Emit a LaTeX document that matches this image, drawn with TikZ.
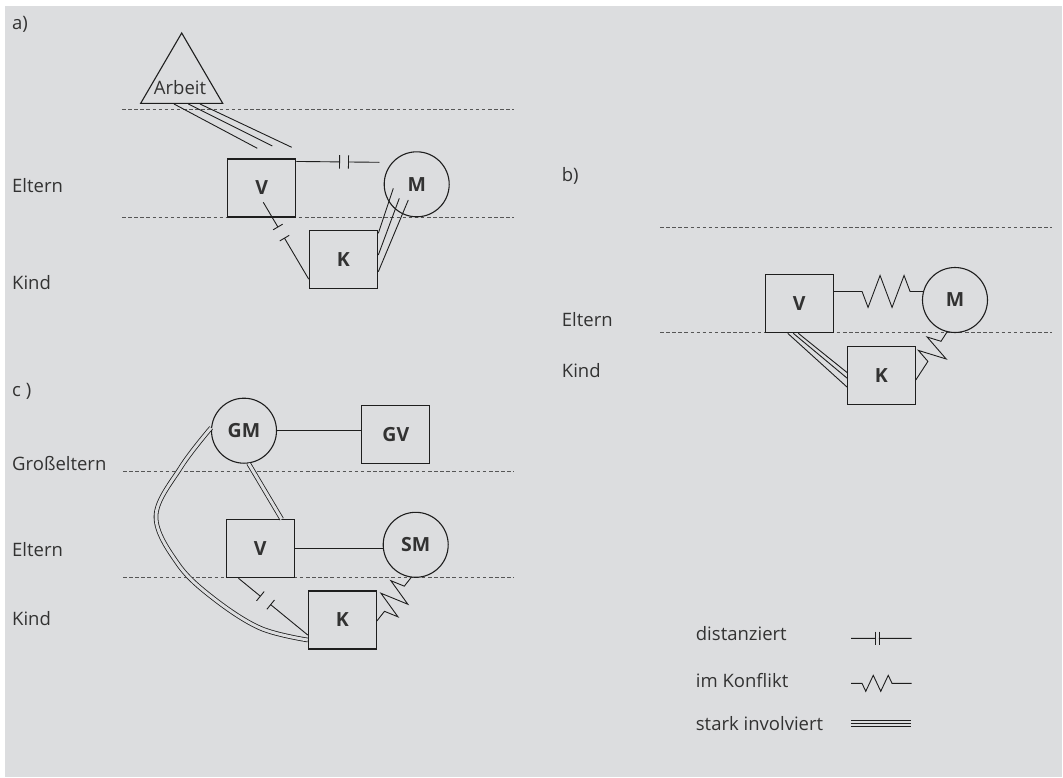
\documentclass[tikz,border=0pt]{standalone}
\usepackage{fontspec}
\setmainfont{Open Sans}
\usetikzlibrary{calc,decorations.pathmorphing}
\definecolor{bgc}{RGB}{220,221,223}
\definecolor{ink}{RGB}{30,30,30}
\definecolor{txt}{RGB}{50,50,50}
\newcommand\distline[5]{%
  \path ($(#1)!#3!(#2)$) coordinate (dA) ($(#1)!#4!(#2)$) coordinate (dB);
  \draw[tie] (#1) -- (dA) (dB) -- (#2);
  \draw[tie] ($(dA)!#5!90:(#2)$) -- ($(dA)!#5!-90:(#2)$);
  \draw[tie] ($(dB)!#5!90:(#2)$) -- ($(dB)!#5!-90:(#2)$);
}
\begin{document}
\begin{tikzpicture}[x=1pt,y=-1pt,
  lbl/.style={anchor=west, inner sep=0pt, font=\fontsize{18.5}{22}\selectfont, text=txt},
  box/.style={draw=ink, line width=1.1pt, inner sep=0pt, minimum width=68pt, minimum height=58pt, font=\fontsize{19.5}{22}\selectfont\bfseries, text=txt},
  person/.style={draw=ink, line width=1.1pt, circle, inner sep=0pt, minimum size=65pt, font=\fontsize{19.5}{22}\selectfont\bfseries, text=txt},
  level/.style={draw=ink!75, line width=1pt, dash pattern=on 3.5pt off 2.6pt},
  tie/.style={draw=ink, line width=0.9pt},
  twin/.style={draw=ink, line width=0.8pt, double=bgc, double distance=3pt},
  conflict/.style={tie, decorate, decoration={zigzag, segment length=#1}},
]
\useasboundingbox (0,0) rectangle (1063,777);
\fill[white] (0,0) rectangle (1063,777);
\fill[bgc] (5,6) rectangle (1062,777);

% ---------------- panel a
\node[lbl] (alab) at (12,24) {a)};
\node[lbl] (aEl) at (12,186) {Eltern};
\node[lbl] (aKi) at (12,283) {Kind};
\draw[level] (122,109.3) -- (514,109.3);
\draw[level] (122,217.3) -- (514,217.3);

\coordinate (arbTop) at (181.7,33);
\coordinate (arbL) at (140.7,103.3);
\coordinate (arbR) at (222.7,103.3);
\draw[draw=ink, line width=1.1pt, line join=miter] (arbTop) -- (arbL) -- (arbR) -- cycle;
\node[inner sep=0pt, font=\fontsize{18.5}{22}\selectfont, text=txt] (arbeit) at (180,88) {Arbeit};

\node[box] (aV) at (261.7,188) {V};
\node[person] (aM) at (416.7,184.3) {M};
\node[box] (aK) at (343.3,259.2) {K};

% Arbeit -- V (stark involviert)
\coordinate (aw1) at (174,104);   \coordinate (av1) at (257.3,148.3);
\coordinate (aw2) at (188.3,104); \coordinate (av2) at (272.3,146);
\coordinate (aw3) at (200,104);   \coordinate (av3) at (291.7,147.3);
\draw[tie] (aw1) -- (av1) (aw2) -- (av2) (aw3) -- (av3);

% V -- M (distanziert)
\coordinate (aVMa) at ($(aV.north east)+(0,3)$);
\coordinate (aVMb) at (379.3,162.3);
\distline{aVMa}{aVMb}{0.5215}{0.629}{6.7pt}

% V -- K (distanziert)
\coordinate (aVKa) at (263.3,202.3);
\coordinate (aVKb) at ($(aK.west)+(0,20)$);
\distline{aVKa}{aVKb}{0.321}{0.466}{5.5pt}

% M -- K (stark involviert)
\coordinate (am1) at (393.3,188.3); \coordinate (ak1) at (378.3,233.3);
\coordinate (am2) at (399.3,198.3); \coordinate (ak2) at (378.3,255);
\coordinate (am3) at (408.3,200);   \coordinate (ak3) at (378.3,271.7);
\draw[tie] (am1) -- (ak1) (am2) -- (ak2) (am3) -- (ak3);

% ---------------- panel b
\node[lbl] (blab) at (561.7,176) {b)};
\node[lbl] (bEl) at (561.7,320) {Eltern};
\node[lbl] (bKi) at (561.7,371) {Kind};
\draw[level] (660,227) -- (1052,227);
\draw[level] (660,332.7) -- (1052,332.7);

\node[box] (bV) at (799.3,303.5) {V};
\node[person] (bM) at (955,300) {M};
\node[box] (bK) at (881.3,375.9) {K};

\coordinate (bVMa) at ($(bV.north east)+(0,17.5)$);
\coordinate (bVMb) at ($(bVMa -| bM.west)+(1.2,0)$);
\draw[conflict=24pt, decoration={amplitude=-16pt, pre length=28.2pt, post length=12pt}] (bVMa) -- (bVMb);

\coordinate (bMKa) at (bM.-104);
\coordinate (bMKb) at ($(bK.east)+(0,4)$);
\draw[conflict=16pt, decoration={amplitude=-14pt, pre length=11pt, post length=14.3pt}] (bMKa) -- (bMKb);

\coordinate (bv1) at (787.7,333.3); \coordinate (bk1) at (847.3,387.3);
\coordinate (bv2) at (793.3,333.3); \coordinate (bk2) at (847.3,378.3);
\coordinate (bv3) at (798.3,333.3); \coordinate (bk3) at (847.3,372.7);
\draw[tie] (bv1) -- (bk1) (bv2) -- (bk2) (bv3) -- (bk3);

% ---------------- panel c
\node[lbl] (clab) at (12,391) {c )};
\node[lbl] (cGE) at (12,464) {Großeltern};
\node[lbl] (cEl) at (12,550) {Eltern};
\node[lbl] (cKi) at (12,619) {Kind};
\draw[level] (123,471) -- (514,471);
\draw[level] (123,577.3) -- (514,577.3);

\node[person] (cGM) at (244,430.7) {GM};
\node[box] (cGV) at (395.8,434.7) {GV};
\node[box] (cV) at (260.3,548.7) {V};
\node[person] (cSM) at (415.7,544.8) {SM};
\node[box] (cK) at (342.3,620) {K};

\draw[tie] (cGM.east) -- (cGM.east -| cGV.west);
\draw[tie] (cV.east) -- ($(cV.east -| cSM.west)+(0.3,0)$);
\draw[twin] (cGM.-82) -- ($(cV.north)+(21.4,0)$);

\coordinate (cArcEnd) at ($(cK.west)+(0,20)$);
\draw[twin] plot[smooth, tension=0.6] coordinates {(cGM.175) (181,467) (156,516) (178,564) (213,598) (260,628) (cArcEnd)};

\coordinate (cVKa) at ($(cV.south west)+(12.7,0)$);
\coordinate (cVKb) at ($(cK.west)+(0,15)$);
\distline{cVKa}{cVKb}{0.316}{0.465}{6pt}

\coordinate (cSKa) at (cSM.-98);
\coordinate (cSKb) at ($(cK.east)+(0,1)$);
\draw[conflict=16pt, decoration={amplitude=-14pt, pre length=11pt, post length=12.3pt}] (cSKa) -- (cSKb);

% ---------------- legend
\node[lbl] (lg1) at (695.7,633.3) {distanziert};
\node[lbl] (lg2) at (695.7,681) {im Konflikt};
\node[lbl] (lg3) at (695.7,723.3) {stark involviert};

\coordinate (l1a) at (851,638.3); \coordinate (l1b) at (911.7,638.3);
\distline{l1a}{l1b}{0.407}{0.461}{6.7pt}

\coordinate (l2a) at (851,683.3); \coordinate (l2b) at (911.7,683.3);
\draw[conflict=15pt, decoration={amplitude=-8pt, pre length=11pt, post length=19.1pt}] (l2a) -- (l2b);

\coordinate (l3a) at (851,723.5); \coordinate (l3b) at (911,723.5);
\draw[tie] ($(l3a)+(0,-3)$) -- ($(l3b)+(0,-3)$) (l3a) -- (l3b) ($(l3a)+(0,3)$) -- ($(l3b)+(0,3)$);
\end{tikzpicture}
\end{document}
